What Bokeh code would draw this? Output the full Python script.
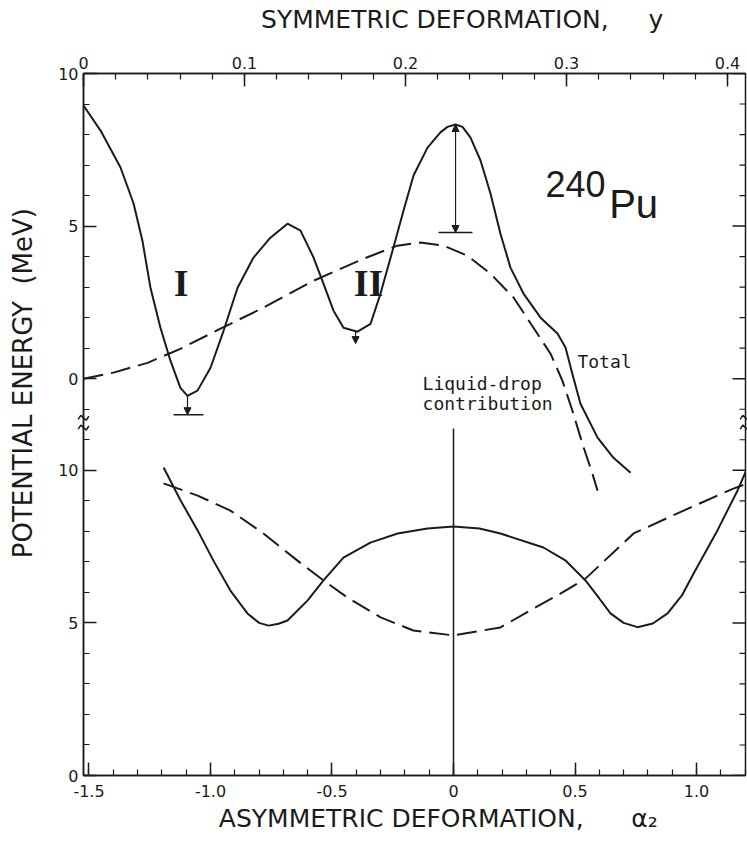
import math
from bokeh.plotting import figure
from bokeh.models import Range1d, LinearAxis, FixedTicker, Label, Arrow, NormalHead
from bokeh.embed import file_html
from bokeh.resources import INLINE

# ---------------- data ----------------
# upper panel: potential energy (MeV) vs symmetric deformation y
sym_total = [0.0, 0.0106, 0.0230, 0.0311, 0.0366, 0.0416, 0.0478, 0.0540, 0.0602, 0.0646,
             0.0708, 0.0789, 0.0870, 0.0957, 0.1056, 0.1161, 0.1267, 0.1348, 0.1429, 0.1491,
             0.1553, 0.1615, 0.1702, 0.1783, 0.1845, 0.1925, 0.1988, 0.2050, 0.2137, 0.2217,
             0.2261, 0.2311, 0.2354, 0.2404, 0.2466, 0.2528, 0.2590, 0.2652, 0.2733, 0.2839,
             0.2944, 0.2994, 0.3043, 0.3087, 0.3193, 0.3292, 0.3398]
energy_total = [8.95, 8.13, 6.92, 5.74, 4.52, 2.98, 1.67, 0.59, -0.30, -0.56,
                -0.39, 0.36, 1.57, 2.98, 3.97, 4.62, 5.08, 4.85, 3.97, 3.11,
                2.23, 1.67, 1.54, 1.80, 2.79, 4.30, 5.51, 6.66, 7.57, 8.07,
                8.25, 8.33, 8.25, 7.90, 7.15, 6.07, 4.75, 3.64, 2.79, 2.00,
                1.48, 1.02, 0.03, -0.82, -1.93, -2.59, -3.08]

sym_ld = [0.0, 0.0186, 0.0398, 0.0602, 0.0851, 0.1118, 0.1429, 0.1739, 0.1950, 0.2093,
          0.2236, 0.2385, 0.2528, 0.2671, 0.2795, 0.2901, 0.2975, 0.3037, 0.3099, 0.3161, 0.3193]
energy_ld = [0.0, 0.20, 0.52, 0.98, 1.64, 2.33, 3.21, 3.93, 4.36, 4.46,
             4.36, 4.03, 3.44, 2.66, 1.67, 0.82, -0.07, -1.05, -2.13, -3.11, -3.67]

# lower panel: potential energy (MeV) vs asymmetric deformation alpha2
alpha_total = [-1.193, -1.123, -1.053, -0.988, -0.918, -0.848, -0.800, -0.761, -0.720, -0.683,
               -0.601, -0.535, -0.453, -0.342, -0.230, -0.107, 0.0, 0.107, 0.193, 0.370,
               0.460, 0.543, 0.600, 0.646, 0.700, 0.757, 0.820, 0.881, 0.940, 0.988,
               1.086, 1.169, 1.210]
asym_total = [10.09, 9.01, 8.03, 7.04, 6.06, 5.31, 5.00, 4.91, 4.97, 5.08,
              5.73, 6.39, 7.14, 7.63, 7.93, 8.09, 8.16, 8.09, 7.93, 7.47,
              7.05, 6.39, 5.80, 5.31, 5.00, 4.86, 4.98, 5.31, 5.90, 6.62,
              8.03, 9.34, 10.09]

alpha_ld = [-1.193, -1.053, -0.918, -0.782, -0.642, -0.535, -0.436, -0.300, -0.165, 0.0,
            0.193, 0.329, 0.440, 0.543, 0.741, 0.947, 1.152, 1.210]
asym_ld = [9.57, 9.17, 8.68, 7.93, 7.04, 6.39, 5.83, 5.18, 4.75, 4.59,
           4.85, 5.47, 5.96, 6.45, 7.93, 8.68, 9.40, 9.57]

# arrows: barrier / minimum corrections in the upper panel (y, from, to)
arrow_sym = [0.0646, 0.169, 0.2311]
arrow_from = [-0.56, 1.54, 8.33]
arrow_to = [-1.18, 1.15, 4.79]
bar_sym_left = [0.0559, 0.2205]
bar_sym_right = [0.0745, 0.2416]
bar_level = [-1.18, 4.79]

# axes ticks and labels
top_ticks = [0.0, 0.1, 0.2, 0.3, 0.4]
top_tick_labels = ["0", "0.1", "0.2", "0.3", "0.4"]
bottom_ticks = [-1.5, -1.0, -0.5, 0.0, 0.5, 1.0]
bottom_tick_labels = ["-1.5", "-1.0", "-0.5", "0", "0.5", "1.0"]
lower_energy_ticks = [0, 5, 10]
upper_energy_ticks = [0, 5, 10]
energy_tick_labels = ["0", "5", "10"]
line_alpha0 = 0.0      # vertical line position (alpha2 = 0)
line_top = 11.37       # top of vertical line (lower-panel MeV)

# ---------------- layout constants ----------------
A0, A1 = -1.5226, 1.2016     # alpha2 at frame left / right
S0, S1 = 0.0, 0.4112         # y at frame left / right
Y_TOP = 23.0                 # frame height in lower-panel MeV units
OFF = 13.0                   # upper-panel zero sits at OFF in lower units
FL, FR, FT, FB = 83, 745, 73, 775
W, H = 747, 843
NB = "\u00a0"
INK = "#1b1b1b"

p = figure(width=W, height=H, output_backend="svg", toolbar_location=None,
           x_range=Range1d(A0, A1), y_range=Range1d(0, Y_TOP),
           x_axis_location=None, y_axis_location=None,
           min_border_left=FL, min_border_right=W - FR,
           min_border_top=FT, min_border_bottom=H - FB,
           background_fill_color="white", border_fill_color="white")
p.extra_x_ranges = {"sym": Range1d(S0, S1)}
p.extra_y_ranges = {"upper": Range1d(-OFF, Y_TOP - OFF)}
p.outline_line_color = INK
p.outline_line_width = 1.5
for g in p.grid:
    g.visible = False

def style_axis(a):
    a.axis_line_color = INK
    a.axis_line_width = 1.5
    a.major_tick_line_color = INK
    a.minor_tick_line_color = INK
    a.major_tick_line_width = 1.5
    a.minor_tick_line_width = 1.2
    a.major_tick_in = 13
    a.major_tick_out = 0
    a.minor_tick_in = 6
    a.minor_tick_out = 0
    a.major_label_text_font = "DejaVu Sans"
    a.major_label_text_font_size = "16px"
    a.major_label_text_color = INK
    a.axis_label_text_font = "DejaVu Sans"
    a.axis_label_text_font_style = "normal"
    a.axis_label_text_color = INK

# bottom axis (alpha2)
b_minor = [round(-1.5 + 0.1 * i, 2) for i in range(28)]
bottom = LinearAxis(ticker=FixedTicker(ticks=bottom_ticks, minor_ticks=b_minor),
                    major_label_overrides=dict(zip(bottom_ticks, bottom_tick_labels)),
                    axis_label=NB * 6 + "ASYMMETRIC DEFORMATION," + NB * 6 + "\u03b1\u2082")
style_axis(bottom)
bottom.major_label_standoff = 9
bottom.axis_label_standoff = 4
bottom.axis_label_text_font_size = "25px"
p.add_layout(bottom, "below")

# top axis (symmetric y)
t_minor = [round(0.02 * i, 2) for i in range(21)]
top = LinearAxis(x_range_name="sym",
                 ticker=FixedTicker(ticks=top_ticks, minor_ticks=t_minor),
                 major_label_overrides=dict(zip(top_ticks, top_tick_labels)),
                 axis_label=NB * 12 + "SYMMETRIC DEFORMATION," + NB * 5 + "y")
style_axis(top)
top.major_label_standoff = 5
top.axis_label_standoff = 20
top.axis_label_text_font_size = "25px"
p.add_layout(top, "above")

# left axis (energy, two panels)
e_ticks = lower_energy_ticks + [v + OFF for v in upper_energy_ticks]
e_labels = energy_tick_labels + energy_tick_labels
e_minor = [v for v in range(0, 24) if v not in e_ticks]
left = LinearAxis(ticker=FixedTicker(ticks=e_ticks, minor_ticks=e_minor),
                  major_label_overrides=dict(zip(e_ticks, e_labels)),
                  axis_label=NB * 10 + "POTENTIAL ENERGY" + NB * 2 + "(MeV)")
style_axis(left)
left.major_label_standoff = 5
left.axis_label_standoff = 17
left.axis_label_text_font_size = "26px"
p.add_layout(left, "left")

# inward ticks on the right edge (same ticks as the left axis)
p.ray(x=[A1] * len(e_ticks), y=e_ticks, length=13, length_units="screen",
      angle=math.pi, line_color=INK, line_width=1.5)
p.ray(x=[A1] * len(e_minor), y=e_minor, length=6, length_units="screen",
      angle=math.pi, line_color=INK, line_width=1.2)

# ---------------- curves ----------------
p.line(sym_total, energy_total, x_range_name="sym", y_range_name="upper",
       line_color=INK, line_width=2)
p.line(sym_ld, energy_ld, x_range_name="sym", y_range_name="upper",
       line_color=INK, line_width=2, line_dash="20 8")
p.line(alpha_total, asym_total, line_color=INK, line_width=2)
p.line(alpha_ld, asym_ld, line_color=INK, line_width=2, line_dash="20 8")
p.line([line_alpha0, line_alpha0], [0, line_top], line_color=INK, line_width=1.5)

# arrows and bars
for i, (xs, y0, y1) in enumerate(zip(arrow_sym, arrow_from, arrow_to)):
    start = NormalHead(size=7, fill_color=INK, line_color=INK) if i == 2 else None
    p.add_layout(Arrow(x_start=xs, y_start=y0, x_end=xs, y_end=y1,
                       x_range_name="sym", y_range_name="upper",
                       start=start,
                       end=NormalHead(size=7, fill_color=INK, line_color=INK),
                       line_color=INK, line_width=1.2))
p.segment(bar_sym_left, bar_level, bar_sym_right, bar_level,
          x_range_name="sym", y_range_name="upper", line_color=INK, line_width=1.5)

# axis break marks on the left and right edges
for edge in (A0, A1):
    for yb in (11.72, 11.40):
        d = 0.022
        p.line([edge - d, edge - d / 2, edge + d / 2, edge + d],
               [yb - 0.05, yb + 0.08, yb - 0.08, yb + 0.05],
               line_color=INK, line_width=1.5, level="overlay")

# ---------------- texts ----------------
def lab(x, y, text, font, size, style="normal", align="left", baseline="alphabetic"):
    p.add_layout(Label(x=x, y=y, text=text, text_font=font, text_font_size=size,
                       text_font_style=style, text_align=align, text_baseline=baseline,
                       text_color=INK, x_range_name="sym", y_range_name="upper"))

lab(0.0606, 3.15, "I", "Liberation Serif", "38px", "bold", "center")
lab(0.1770, 3.15, "II", "Liberation Serif", "38px", "bold", "center")
lab(0.2870, 6.39, "240", "Liberation Sans", "36px")
lab(0.3265, 5.73, "Pu", "Liberation Sans", "40px")
lab(0.3068, 0.56, "Total", "DejaVu Sans Mono", "18px", baseline="middle")
lab(0.2106, -0.16, "Liquid-drop", "DejaVu Sans Mono", "18px", baseline="middle")
lab(0.2106, -0.82, "contribution", "DejaVu Sans Mono", "18px", baseline="middle")

open("out.html", "w").write(file_html(p, INLINE))
